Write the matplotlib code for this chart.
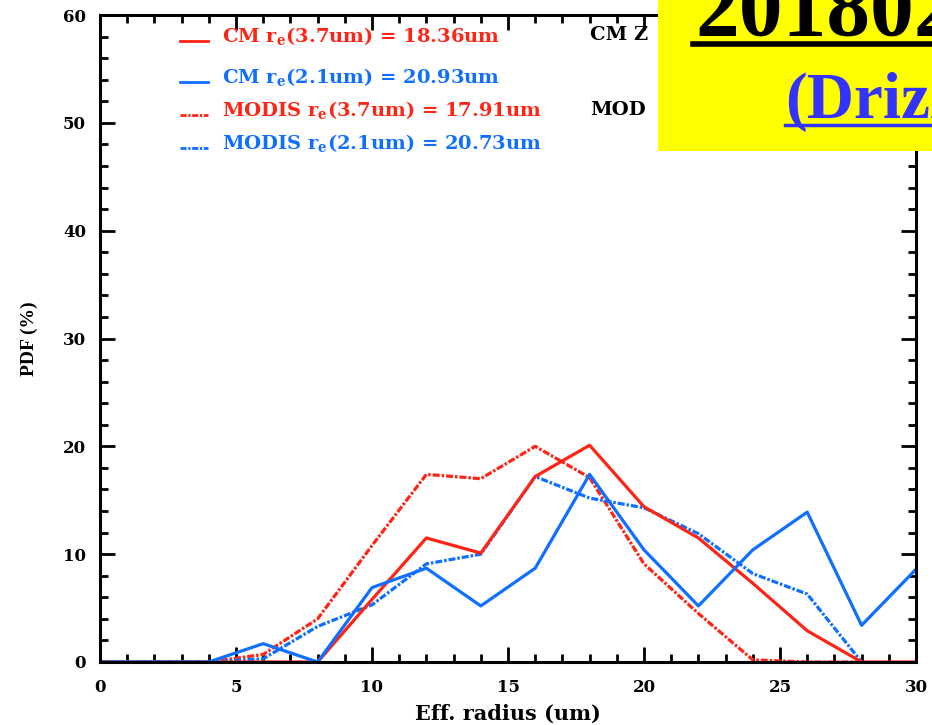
import matplotlib
matplotlib.use('Agg')
import matplotlib.pyplot as plt
from matplotlib.lines import Line2D
from matplotlib.patches import Rectangle
from matplotlib.ticker import MultipleLocator

plt.rcParams['font.family'] = ['DejaVu Serif']
plt.rcParams['font.weight'] = 'bold'
plt.rcParams['mathtext.default'] = 'regular'

# effective radius bins (um)
radius = [0, 2, 4, 6, 8, 10, 12, 14, 16, 18, 20, 22, 24, 26, 28, 30]
cm_37 = [0, 0, 0, 0, 0, 5.8, 11.5, 10.1, 17.2, 20.1, 14.4, 11.5, 7.3, 2.9, 0, 0]
cm_21 = [0, 0, 0, 1.7, 0, 6.9, 8.7, 5.2, 8.7, 17.4, 10.4, 5.2, 10.4, 13.9, 3.4, 8.6]
modis_37 = [0, 0, 0, 0.7, 4.0, 10.8, 17.4, 17.0, 20.0, 17.1, 9.1, 4.5, 0.2, 0, 0]
modis_21 = [0, 0, 0, 0.3, 3.3, 5.3, 9.1, 10.0, 17.2, 15.2, 14.3, 11.9, 8.2, 6.3, 0]
modis_x = radius[:-1]

labels = ['CM r$_e$(3.7um) = 18.36um', 'CM r$_e$(2.1um) = 20.93um',
          'MODIS r$_e$(3.7um) = 17.91um', 'MODIS r$_e$(2.1um) = 20.73um']
red = '#ff2414'
blue = '#0f6fff'
dashdot = (0, (2.2, 0.6, 0.8, 0.6))

fig = plt.figure(figsize=(9.32, 7.25), dpi=100)
ax = fig.add_axes([100/932, 63/725, 816/932, 647/725])

ax.plot(modis_x, modis_37, color=red, lw=2.3, ls=dashdot)
ax.plot(modis_x, modis_21, color=blue, lw=2.3, ls=dashdot)
ax.plot(radius, cm_37, color=red, lw=2.3)
ax.plot(radius, cm_21, color=blue, lw=2.3)

ax.set_xlim(0, 30)
ax.set_ylim(0, 60)
ax.xaxis.set_major_locator(MultipleLocator(5))
ax.xaxis.set_minor_locator(MultipleLocator(1))
ax.yaxis.set_major_locator(MultipleLocator(10))
ax.yaxis.set_minor_locator(MultipleLocator(2))
ax.tick_params(which='both', direction='in', top=True, right=True, width=2,
               labelsize=12)
ax.tick_params(axis='x', pad=12)
ax.tick_params(axis='y', pad=10)
ax.tick_params(which='major', length=11)
ax.tick_params(which='minor', length=6)
for s in ax.spines.values():
    s.set_linewidth(2.2)
ax.set_xlabel('Eff. radius (um)', fontsize=15, fontweight='bold', labelpad=6)
ax.set_ylabel('PDF (%)', fontsize=14, fontweight='bold', labelpad=18,
              family='Liberation Serif')

# legend drawn by hand (uneven row spacing in the original)
rows = [(36, red, '-'), (77, blue, '-'), (110, red, dashdot), (143, blue, dashdot)]
for (yy, c, ls), txt in zip(rows, labels):
    fy = 1 - yy / 725
    fig.add_artist(Line2D([180/932, 208/932], [fy - 5/725, fy - 5/725],
                          color=c, lw=2, ls=ls))
    fig.text(222/932, fy, txt, color=c, fontsize=14, fontweight='bold',
             va='center', ha='left')
fig.text(590/932, 1 - 35/725, 'CM Z', fontsize=14, fontweight='bold', va='center')
fig.text(590/932, 1 - 110/725, 'MOD', fontsize=14, fontweight='bold', va='center')

# yellow title box, cut by the figure edge
fig.add_artist(Rectangle((658/932, 1 - 151/725), 300/932, 160/725,
                         facecolor='#ffff00', edgecolor='none', zorder=5))
fig.text(695/932, 1 - 35/725, '201802', fontsize=63, fontweight='bold',
         family='Liberation Serif', va='baseline', ha='left', zorder=6)
fig.add_artist(Line2D([693/932, 1.0], [1 - 44/725, 1 - 44/725],
                      color='black', lw=4, zorder=6))
fig.text(785/932, 1 - 118/725, '(Drizzle', fontsize=47, fontweight='bold',
         family='Liberation Serif', color='#3333ff', va='baseline', ha='left',
         zorder=6)
fig.add_artist(Line2D([785/932, 1.0], [1 - 125/725, 1 - 125/725],
                      color='#3333ff', lw=2.5, zorder=6))

fig.savefig('out.png', dpi=100)
